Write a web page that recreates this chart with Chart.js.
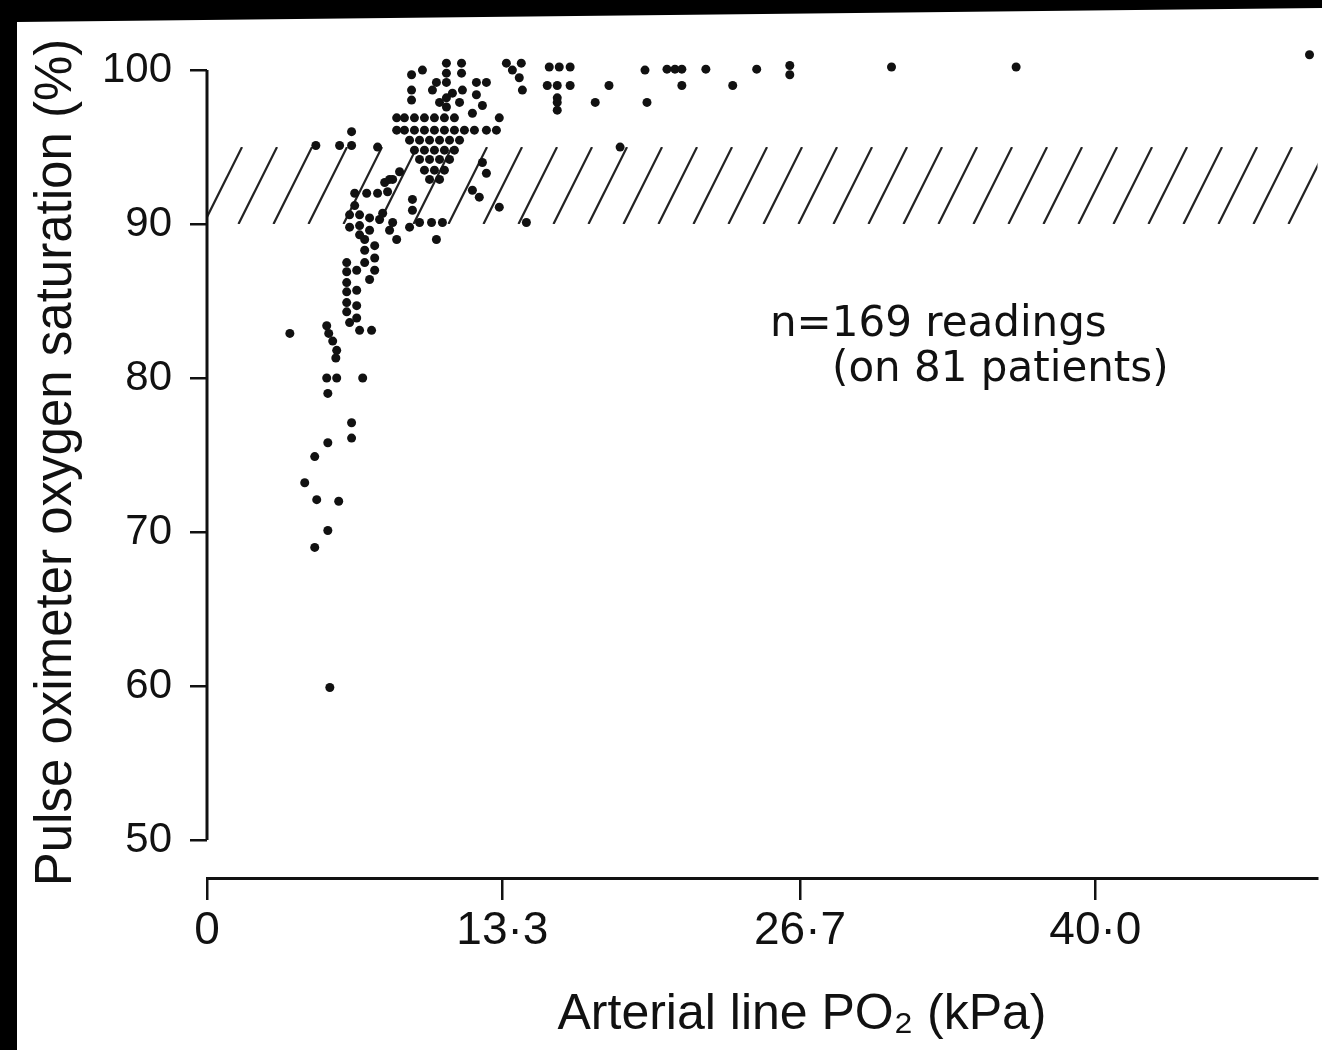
<!DOCTYPE html>
<html>
<head>
<meta charset="utf-8">
<script src="https://cdn.jsdelivr.net/npm/chart.js@4.4.1/dist/chart.umd.min.js"></script>
<style>
  html, body { margin: 0; padding: 0; background: #000; overflow: hidden; }
  #wrap { position: absolute; left: 0; top: 0; width: 1322px; height: 1050px; }
</style>
</head>
<body>
<div id="wrap"><canvas id="oxi" width="1322" height="1050"></canvas></div>
<script>
// arterial PO2 (kPa) and pulse oximeter saturation (%), one entry per reading
var pao2Kpa = [
  // low readings
  5.53, 4.85, 5.44, 4.94, 5.93, 4.40, 4.85, 5.44, 6.51, 6.51,
  5.44, 5.39, 5.84, 7.01, 3.73, 5.39, 5.48, 5.66, 5.84, 5.80,
  // 83-89 %
  6.29, 6.29, 6.29, 6.29, 6.29, 6.29, 6.42, 6.74, 6.74, 6.74,
  6.74, 6.87, 7.41, 7.10, 7.10, 7.10, 7.55, 7.55, 7.55, 7.32,
  // around 90 %
  6.42, 6.42, 6.87, 6.87, 6.87, 7.32, 7.32, 7.77, 7.91, 8.22,
  8.36, 6.65, 6.65, 7.19, 7.68, 8.13, 8.54, 9.25, 9.57, 10.11,
  10.33, 9.12,
  // 92-96 % on the left
  4.90, 5.97, 6.51, 6.51, 7.68, 8.00, 8.67, 8.22,
  // edges of the cluster
  10.15, 10.78, 11.37, 12.40, 12.58, 11.95, 12.26, 13.16, 14.38, 9.25,
  10.60, 8.36, 8.54, 8.54,
  // dense cluster
  8.89, 9.34, 9.79, 10.24, 10.69, 11.14,
  8.89, 9.34, 9.79, 10.24, 10.69, 11.14, 11.59, 12.04, 12.58, 13.03,
  9.12, 9.57, 10.02, 10.47, 10.92, 11.37,
  9.34, 9.79, 10.24, 10.69, 11.14,
  9.57, 10.02, 10.47, 10.92,
  9.79, 10.24, 10.69,
  10.02, 10.47,
  // top of cluster
  9.21, 9.70, 9.21, 9.21, 10.78, 10.78, 10.78, 10.78, 11.46, 11.46,
  10.33, 11.05, 11.50, 12.13, 12.58, 12.13, 12.40, 11.95, 10.47, 13.48,
  13.75, 14.06, 14.20, 13.16,
  // high PO2
  14.15, 15.41, 15.86, 16.35, 15.32, 15.77, 16.35, 15.77, 15.77, 15.77,
  17.48, 18.10, 18.60, 19.72, 19.81, 20.71, 21.07, 21.38, 21.38, 22.46,
  23.67, 24.75, 26.24, 26.24, 30.82, 36.43, 49.64
];
var spo2Pct = [
  59.9, 69.0, 70.1, 72.1, 72.0, 73.2, 74.9, 75.8, 76.1, 77.1,
  79.0, 80.0, 80.0, 80.0, 82.9, 83.4, 82.9, 82.4, 81.8, 81.3,
  87.5, 86.9, 86.2, 85.6, 84.9, 84.3, 83.6, 87.0, 85.7, 84.7,
  83.9, 83.1, 83.1, 89.0, 88.3, 87.5, 88.6, 87.8, 87.0, 86.4,
  90.6, 89.8, 90.6, 89.9, 89.3, 90.4, 89.6, 90.3, 90.7, 89.6,
  90.1, 91.2, 92.0, 92.0, 92.0, 92.1, 89.0, 90.9, 90.1, 90.1,
  89.0, 89.8,
  95.1, 95.1, 95.1, 96.0, 95.0, 92.7, 93.4, 92.9,
  98.7, 97.6, 97.9, 94.0, 93.3, 92.2, 91.75, 91.1, 90.1, 91.6,
  90.1, 92.9, 96.9, 96.1,
  96.9, 96.9, 96.9, 96.9, 96.9, 96.9,
  96.1, 96.1, 96.1, 96.1, 96.1, 96.1, 96.1, 96.1, 96.1, 96.1,
  95.45, 95.45, 95.45, 95.45, 95.45, 95.45,
  94.8, 94.8, 94.8, 94.8, 94.8,
  94.2, 94.2, 94.2, 94.2,
  93.5, 93.5, 93.5,
  92.9, 92.9,
  99.7, 100.0, 98.7, 98.05, 100.45, 99.8, 99.2, 98.2, 100.45, 99.8,
  99.2, 98.5, 98.7, 99.2, 99.2, 98.4, 97.7, 97.2, 97.9, 100.45,
  100.0, 99.5, 98.7, 96.9,
  100.45, 100.2, 100.2, 100.2, 99.0, 99.0, 99.0, 98.2, 97.9, 97.4,
  97.9, 99.0, 95.0, 100.0, 97.9, 100.06, 100.06, 100.06, 99.0, 100.06,
  99.0, 100.06, 100.3, 99.7, 100.2, 100.2, 101.0
];

var xTickValues = [0, 13.3, 26.7, 40.0];
var xTickLabels = ['0', '13·3', '26·7', '40·0'];
var yTickValues = [50, 60, 70, 80, 90, 100];
var bandRange = [90, 95];
var noteLines = ['n=169 readings', '(on 81 patients)'];
var xTitle = 'Arterial line PO₂ (kPa)';
var yTitle = 'Pulse oximeter oxygen saturation (%)';

var points = pao2Kpa.map(function (v, i) { return { x: v, y: spo2Pct[i] }; });

var ink = '#111';

// black scanner margin round the page
var paper = {
  id: 'paper',
  beforeDraw: function (chart) {
    var c = chart.ctx;
    c.save();
    c.fillStyle = '#000';
    c.fillRect(0, 0, chart.width, chart.height);
    c.fillStyle = '#fff';
    c.beginPath();
    c.moveTo(17, 22);
    c.lineTo(chart.width, 8);
    c.lineTo(chart.width, chart.height);
    c.lineTo(17, chart.height);
    c.closePath();
    c.fill();
    c.restore();
  }
};

// hatched band 90-95 %, and the y axis line
var hatch = {
  id: 'hatch',
  beforeDatasetsDraw: function (chart) {
    var x = chart.scales.x, y = chart.scales.y, c = chart.ctx;
    var left = x.getPixelForValue(0), right = chart.chartArea.right;
    var top = y.getPixelForValue(bandRange[1]), bottom = y.getPixelForValue(bandRange[0]);
    var rise = (bottom - top) / 2;
    c.save();
    c.beginPath();
    c.rect(left, top, right - left, bottom - top);
    c.clip();
    c.strokeStyle = '#222';
    c.lineWidth = 2.2;
    for (var bx = left - rise; bx < right; bx += 35) {
      c.beginPath();
      c.moveTo(bx, bottom);
      c.lineTo(bx + rise, top);
      c.stroke();
    }
    c.restore();

    c.save();
    c.strokeStyle = ink;
    c.lineWidth = 3;
    c.beginPath();
    c.moveTo(left, y.getPixelForValue(yTickValues[0]));
    c.lineTo(left, y.getPixelForValue(yTickValues[yTickValues.length - 1]));
    c.stroke();
    c.restore();
  }
};

// x title and the n= note
var texts = {
  id: 'texts',
  afterDraw: function (chart) {
    var c = chart.ctx;
    c.save();
    c.fillStyle = ink;
    c.textBaseline = 'middle';
    c.font = '50px "Liberation Sans"';
    c.textAlign = 'center';
    c.fillText(xTitle, 802, 1015);
    c.textAlign = 'left';
    c.font = '42px "DejaVu Sans"';
    c.fillText(noteLines[0], 770, 325);
    c.fillText(noteLines[1], 832, 370);
    c.restore();
  }
};

var ctx = document.getElementById('oxi');

var chartGraph = new Chart(ctx, {
  type: 'scatter',
  data: {
    datasets: [{
      data: points,
      pointRadius: 4.5,
      pointHoverRadius: 4.5,
      backgroundColor: ink,
      borderWidth: 0,
      clip: false
    }]
  },
  options: {
    responsive: false,
    animation: false,
    layout: { padding: { left: 20, top: 47, right: 2, bottom: 0 } },
    plugins: {
      legend: { display: false },
      tooltip: { enabled: false }
    },
    scales: {
      x: {
        type: 'linear',
        min: 0,
        max: 50,
        afterBuildTicks: function (s) {
          s.ticks = xTickValues.map(function (v) { return { value: v }; });
        },
        afterFit: function (s) { s.height = 172; },
        border: { display: true, color: ink, width: 3 },
        grid: { drawOnChartArea: false, tickLength: 22, color: ink, lineWidth: 2.5 },
        ticks: {
          padding: 4,
          color: ink,
          autoSkip: false,
          maxRotation: 0,
          font: { family: 'Liberation Sans', size: 46 },
          callback: function (v, i) { return xTickLabels[i]; }
        }
      },
      y: {
        min: 47.53,
        max: 101.5,
        afterBuildTicks: function (s) {
          s.ticks = yTickValues.map(function (v) { return { value: v }; });
        },
        afterFit: function (s) { s.width = 187; },
        border: { display: false },
        grid: { drawOnChartArea: false, tickLength: 17, color: ink, lineWidth: 2.5 },
        ticks: {
          padding: 18,
          color: ink,
          font: { family: 'Liberation Sans', size: 42 },
          callback: function (v) { return String(v); }
        },
        title: {
          display: true,
          text: yTitle,
          color: ink,
          font: { family: 'Liberation Sans', size: 51 },
          padding: { top: 6, bottom: 0 }
        }
      }
    }
  },
  plugins: [paper, hatch, texts]
});
</script>
</body>
</html>
